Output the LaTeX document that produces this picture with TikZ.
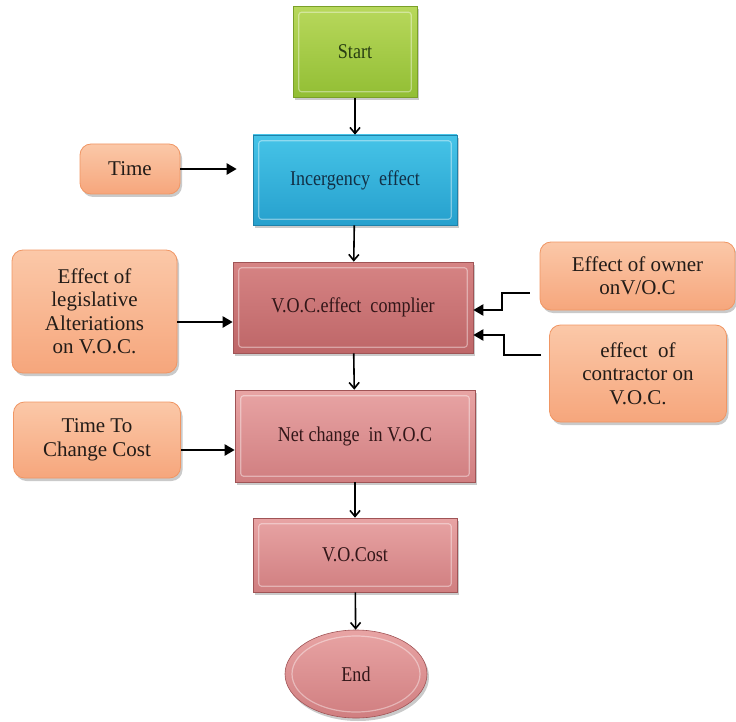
\documentclass[tikz,border=0pt]{standalone}
\usepackage{fontspec}
\setmainfont{Liberation Serif}
\newfontfamily\condfont[FakeStretch=0.86]{Liberation Serif}
\usetikzlibrary{arrows.meta,shadows,calc,shapes.geometric}

% palette
\definecolor{grnTop}{RGB}{184,216,92}
\definecolor{grnBot}{RGB}{146,190,52}
\definecolor{grnEdge}{RGB}{122,160,40}
\definecolor{grnText}{RGB}{40,62,18}
\definecolor{bluTop}{RGB}{70,196,232}
\definecolor{bluBot}{RGB}{38,160,205}
\definecolor{bluEdge}{RGB}{30,130,170}
\definecolor{bluText}{RGB}{18,48,70}
\definecolor{rosTop}{RGB}{214,132,132}
\definecolor{rosBot}{RGB}{190,102,104}
\definecolor{rosEdge}{RGB}{160,84,86}
\definecolor{pinTop}{RGB}{232,164,164}
\definecolor{pinBot}{RGB}{208,126,128}
\definecolor{rosText}{RGB}{50,22,24}
\definecolor{orgTop}{RGB}{251,200,168}
\definecolor{orgBot}{RGB}{246,166,124}
\definecolor{orgEdge}{RGB}{240,150,100}
\definecolor{orgText}{RGB}{35,28,24}

\tikzset{
  shade/.style={drop shadow={shadow xshift=2pt, shadow yshift=-3pt, opacity=0.35, fill=black!60}},
  mainbox/.style={shade, rectangle, inner sep=0pt, align=center, line width=0.6pt,
    font=\condfont\fontsize{21}{23}\selectfont},
  greenbox/.style={mainbox, top color=grnTop, bottom color=grnBot, draw=grnEdge, text=grnText},
  bluebox/.style={mainbox, top color=bluTop, bottom color=bluBot, draw=bluEdge, text=bluText},
  rosebox/.style={mainbox, top color=rosTop, bottom color=rosBot, draw=rosEdge, text=rosText},
  pinkbox/.style={mainbox, top color=pinTop, bottom color=pinBot, draw=rosEdge, text=rosText},
  endoval/.style={shade, ellipse, inner sep=0pt, line width=0.6pt, top color=pinTop, bottom color=pinBot,
    draw=rosEdge, text=rosText, font=\condfont\fontsize{21}{23}\selectfont},
  sidebox/.style={shade, rectangle, rounded corners=11pt, inner sep=0pt, align=center, line width=0.8pt,
    top color=orgTop, bottom color=orgBot, draw=orgEdge, text=orgText,
    font=\fontsize{21}{23.5}\selectfont},
  bevel/.style={draw=white, draw opacity=0.4, line width=1.2pt, rounded corners=3pt},
  flow/.style={-{Straight Barb[length=6pt,width=10pt]}, line width=1.6pt},
  feed/.style={-{Triangle[length=10pt,width=11pt]}, line width=2.2pt},
}

\begin{document}
\begin{tikzpicture}[x=1pt,y=-1pt]
\useasboundingbox (0,0) rectangle (736,722);

% main column
\node[greenbox, minimum width=124pt, minimum height=91pt] (start) at (355,52) {Start};
\node[bluebox, minimum width=204pt, minimum height=90pt] (inc) at (355,180) {Incergency\ \ effect};
\node[rosebox, minimum width=240pt, minimum height=91pt] (compl) at (353,307.5) {V.O.C.effect\ \ complier};
\node[pinkbox, minimum width=240pt, minimum height=92pt] (net) at (355,436) {Net change\ \ in V.O.C};
\node[pinkbox, minimum width=204pt, minimum height=74pt] (cost) at (355,555) {V.O.Cost};
\node[endoval, minimum width=142pt, minimum height=88pt] (end) at (356,674) {End};

% bevel highlights
\foreach \n in {start,inc,compl,net,cost}
  \draw[bevel] ($(\n.north west)+(6,6)$) rectangle ($(\n.south east)+(-6,-6)$);
\draw[bevel] (end.center) ellipse (64pt and 38pt);

% side inputs
\node[sidebox, minimum width=100pt, minimum height=50pt] (time) at (130,169) {Time};
\node[sidebox, minimum width=165pt, minimum height=123pt] (leg) at (94.5,311.5)
  {Effect of\\legislative\\Alteriations\\on V.O.C.};
\node[sidebox, minimum width=195pt, minimum height=68pt] (owner) at (637.5,276)
  {Effect of owner\\onV/O.C};
\node[sidebox, minimum width=177pt, minimum height=97pt] (contr) at (638,373.5)
  {effect\ \ of\\contractor on\\V.O.C.};
\node[sidebox, minimum width=167pt, minimum height=76pt] (ttc) at (97,440)
  {Time To\\Change Cost};

% main flow
\draw[flow] (start) -- (inc);
\draw[flow] (inc) -- (compl);
\draw[flow] (compl) -- (net);
\draw[flow] (net) -- (cost);
\draw[flow] (cost) -- (end);

% feeds into the column
\draw[feed] (time.east) -- ($(inc.west)+(-16,-11)$);
\coordinate (legout) at ($(leg.east)+(0,10.5)$);
\draw[feed] (legout) -- (legout -| compl.west);
\coordinate (ttcout) at ($(ttc.east)+(0,10)$);
\draw[feed] (ttcout) -- (ttcout -| net.west);

\coordinate (ownout) at ($(owner.west)+(-10,17)$);
\coordinate (ownin) at ($(compl.east)+(0,2.5)$);
\draw[feed] (ownout) -- ++(-28,0) |- (ownin);
\coordinate (conout) at ($(contr.west)+(-8,-18.5)$);
\coordinate (conin) at ($(compl.east)+(0,27.5)$);
\draw[feed] (conout) -- ++(-37,0) |- (conin);
\end{tikzpicture}
\end{document}
